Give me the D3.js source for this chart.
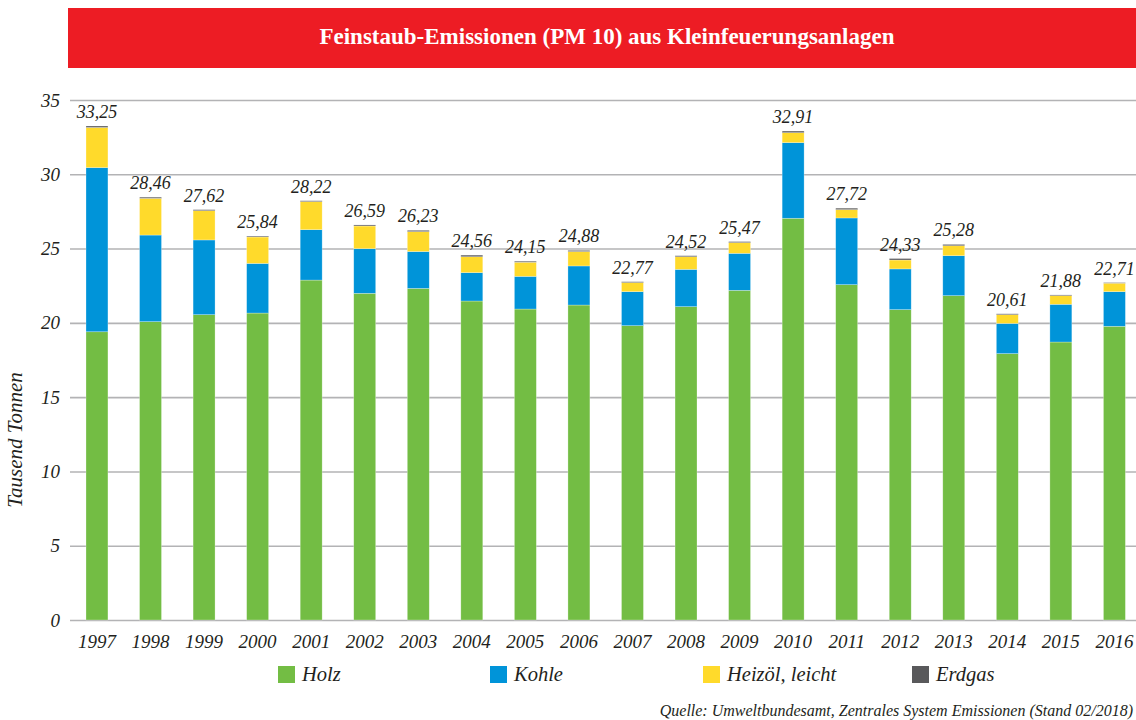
<!DOCTYPE html>
<html>
  <head>
    <meta charset="utf-8">
    <title>Feinstaub-Emissionen</title>
    <script src="https://d3js.org/d3.v7.min.js"></script>
    <style>
      body { margin: 0; background: #fff; }
      text { font-family: "Liberation Serif", "DejaVu Serif", serif; }
    </style>
  </head>
  <body>
    <div id="chart"></div>
    <script>
      // data
      const years = ['1997','1998','1999','2000','2001','2002','2003','2004','2005','2006',
                     '2007','2008','2009','2010','2011','2012','2013','2014','2015','2016'];
      const holz    = [19.40,20.08,20.55,20.66,22.88,21.99,22.32,21.47,20.93,21.20,
                       19.81,21.09,22.19,27.04,22.57,20.89,21.83,17.93,18.71,19.77];
      const kohle   = [11.05,5.83,5.03,3.34,3.39,3.00,2.48,1.91,2.20,2.63,
                       2.29,2.51,2.49,5.09,4.49,2.74,2.69,2.03,2.54,2.33];
      const heizoel = [2.70,2.47,1.97,1.78,1.89,1.53,1.34,1.07,0.95,0.97,
                       0.61,0.85,0.72,0.67,0.56,0.60,0.67,0.59,0.58,0.57];
      const erdgas  = [0.10,0.08,0.07,0.06,0.06,0.07,0.09,0.11,0.07,0.08,
                       0.06,0.07,0.07,0.11,0.10,0.10,0.09,0.06,0.05,0.04];
      const totals  = ['33,25','28,46','27,62','25,84','28,22','26,59','26,23','24,56','24,15','24,88',
                       '22,77','24,52','25,47','32,91','27,72','24,33','25,28','20,61','21,88','22,71'];
      const yTicks = [0,5,10,15,20,25,30,35];
      const seriesNames = ['Holz','Kohle','Heizöl, leicht','Erdgas'];
      const colors = ['#73bd44','#0094d9','#ffda2b','#59595b'];

      const W = 1136, H = 720;
      const svg = d3.select('#chart').append('svg')
        .attr('width', W).attr('height', H);

      // title banner
      svg.append('rect').attr('x', 68).attr('y', 8).attr('width', W - 68).attr('height', 60)
        .attr('fill', '#ed1c24');
      svg.append('text').attr('x', 607).attr('y', 44).attr('text-anchor', 'middle')
        .attr('fill', '#fff').attr('font-weight', 'bold').attr('font-size', 23)
        .text('Feinstaub-Emissionen (PM 10) aus Kleinfeuerungsanlagen');

      const plotLeft = 70, plotRight = W, plotTop = 100, plotBottom = 620;

      const y = d3.scaleLinear().domain([0, 35]).range([plotBottom, plotTop]);
      const step = 53.55, pad = 0.59;
      const x = d3.scaleBand().domain(years)
        .range([54.4, 54.4 + step * (years.length + pad)])
        .padding(pad);

      // grid + y axis
      const yAxis = svg.append('g').attr('transform', 'translate(' + plotLeft + ',0)')
        .call(d3.axisLeft(y).tickValues(yTicks).tickSize(-(plotRight - plotLeft)).tickPadding(10));
      yAxis.select('.domain').remove();
      yAxis.selectAll('line').attr('stroke', '#b3b3b5').attr('stroke-width', 1.6);
      yAxis.selectAll('text').attr('font-size', 19).attr('font-style', 'italic')
        .attr('fill', '#231f20');

      // stacked data
      const table = years.map((yr, i) => ({
        year: yr, Holz: holz[i], Kohle: kohle[i], 'Heizöl, leicht': heizoel[i], Erdgas: erdgas[i]
      }));
      const stack = d3.stack().keys(seriesNames)(table);

      svg.append('g').selectAll('g')
        .data(stack)
        .join('g')
        .attr('fill', (d, i) => colors[i])
        .selectAll('rect')
        .data(d => d)
        .join('rect')
        .attr('x', d => x(d.data.year))
        .attr('y', d => y(d[1]))
        .attr('width', x.bandwidth())
        .attr('height', d => y(d[0]) - y(d[1]))
        .attr('stroke', 'rgba(255,255,255,0.45)')
        .attr('stroke-width', 0.6);

      // total labels
      svg.append('g').selectAll('text')
        .data(years)
        .join('text')
        .attr('x', d => x(d) + x.bandwidth() / 2)
        .attr('y', (d, i) => y(holz[i] + kohle[i] + heizoel[i] + erdgas[i]) - 8)
        .attr('text-anchor', 'middle')
        .attr('font-size', 18).attr('font-style', 'italic').attr('fill', '#231f20')
        .text((d, i) => totals[i]);

      // x axis
      const xAxis = svg.append('g').attr('transform', 'translate(0,' + plotBottom + ')')
        .call(d3.axisBottom(x).tickSize(0).tickPadding(15));
      xAxis.select('.domain').remove();
      xAxis.selectAll('text').attr('font-size', 19).attr('font-style', 'italic')
        .attr('fill', '#231f20');

      // y axis title
      svg.append('text')
        .attr('transform', 'translate(22,440) rotate(-90)')
        .attr('text-anchor', 'middle')
        .attr('font-size', 21).attr('font-style', 'italic').attr('fill', '#231f20')
        .text('Tausend Tonnen');

      // legend
      const legendX = [278, 490, 703, 912];
      const legend = svg.append('g').selectAll('g')
        .data(seriesNames)
        .join('g')
        .attr('transform', (d, i) => 'translate(' + legendX[i] + ',666)');
      legend.append('rect').attr('width', 17).attr('height', 17)
        .attr('fill', (d, i) => colors[i]);
      legend.append('text').attr('x', 24).attr('y', 15)
        .attr('font-size', 20.5).attr('font-style', 'italic').attr('fill', '#231f20')
        .text(d => d);

      // source
      svg.append('text').attr('x', 1133).attr('y', 716).attr('text-anchor', 'end')
        .attr('font-size', 16).attr('font-style', 'italic').attr('fill', '#231f20')
        .text('Quelle: Umweltbundesamt, Zentrales System Emissionen (Stand 02/2018)');
    </script>
  </body>
</html>
